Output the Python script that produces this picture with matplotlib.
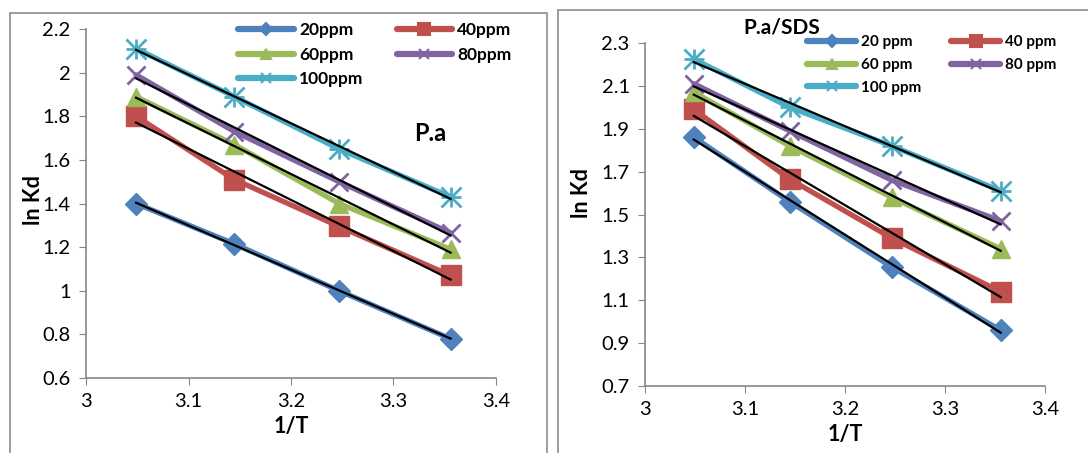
import numpy as np
import matplotlib
matplotlib.use("Agg")
from matplotlib import pyplot as plt
from matplotlib.patches import Rectangle

plt.rcParams["font.family"] = ["Lato", "DejaVu Sans"]

inv_T = [3.0488, 3.1447, 3.2468, 3.3557]

pa_labels = ["20ppm", "40ppm", "60ppm", "80ppm", "100ppm"]
pa_20 = [1.40, 1.215, 1.00, 0.78]
pa_40 = [1.80, 1.51, 1.295, 1.07]
pa_60 = [1.89, 1.67, 1.40, 1.19]
pa_80 = [1.99, 1.73, 1.50, 1.265]
pa_100 = [2.11, 1.89, 1.65, 1.43]

sds_labels = ["20 ppm", "40 ppm", "60 ppm", "80 ppm", "100 ppm"]
sds_20 = [1.86, 1.56, 1.255, 0.96]
sds_40 = [1.99, 1.665, 1.39, 1.14]
sds_60 = [2.07, 1.82, 1.58, 1.34]
sds_80 = [2.11, 1.89, 1.66, 1.47]
sds_100 = [2.225, 2.00, 1.82, 1.61]

colors = ["#4F81BD", "#C0504D", "#9BBB59", "#8064A2", "#4BACC6"]
markers = ["D", "s", "^", "x", "x"]
msizes = [11, 14, 13, 13, 14]
legend_ms = [6, 9, 7, 7, 7]

fig = plt.figure(figsize=(10.88, 4.53), dpi=100)

# chart frames
fig.patches.append(Rectangle((10 / 1088, -0.05), 537 / 1088, 1.05 - 13 / 453,
                             transform=fig.transFigure, fill=False,
                             edgecolor="#8c8c8c", lw=1.2))
fig.patches.append(Rectangle((558 / 1088, -0.05), 540 / 1088, 1.05 - 10 / 453,
                             transform=fig.transFigure, fill=False,
                             edgecolor="#8c8c8c", lw=1.2))


def draw_panel(ax, series, labels, ylim, yticks, leg_anchor, leg_size, colsp,
               lsp, ylab_xy):
    handles = []
    for i, y in enumerate(series):
        ax.plot(inv_T, y, color=colors[i], lw=3.8, marker=markers[i],
                ms=msizes[i], mew=2 if markers[i] == "x" else 1,
                mec=colors[i], solid_capstyle="round", zorder=2)
        if i == 4:
            ax.plot(inv_T, y, color=colors[i], lw=0, marker="+", ms=msizes[i],
                    mew=2, zorder=2)
        fit = np.polyfit(inv_T, y, 1)
        xs = np.array([inv_T[0], inv_T[-1]])
        ax.plot(xs, np.polyval(fit, xs), color="black", lw=1.6, zorder=3)
        h, = ax.plot([], [], color=colors[i], lw=4.5, marker=markers[i],
                     ms=legend_ms[i], mew=1.5, solid_capstyle="round",
                     label=labels[i])
        handles.append(h)
    order = [0, 2, 4, 1, 3]
    ax.legend([handles[k] for k in order], [labels[k] for k in order],
              ncol=2, frameon=False, loc="upper left", bbox_to_anchor=leg_anchor,
              prop={"weight": "bold", "size": leg_size}, handlelength=3.2,
              handletextpad=0.3, columnspacing=colsp, labelspacing=lsp,
              borderaxespad=0)
    ax.set_xlim(3, 3.4)
    ax.set_ylim(*ylim)
    ax.set_xticks([3, 3.1, 3.2, 3.3, 3.4])
    ax.set_xticklabels(["3", "3.1", "3.2", "3.3", "3.4"])
    ax.set_yticks(yticks)
    ax.set_yticklabels([f"{t:g}" for t in yticks])
    for side in ["top", "right"]:
        ax.spines[side].set_visible(False)
    for side in ["left", "bottom"]:
        ax.spines[side].set_color("#868686")
        ax.spines[side].set_linewidth(1.2)
    ax.tick_params(direction="out", length=5, color="#868686", labelsize=14.5,
                   pad=6)
    ax.set_xlabel("1/T", fontsize=15.5, fontweight="bold", labelpad=4)
    ax.set_ylabel("ln Kd", fontsize=15.5, fontweight="bold")
    ax.yaxis.label.set_va("center")
    ax.yaxis.set_label_coords(*ylab_xy)


ax1 = fig.add_axes([86 / 1088, 75 / 453, 410 / 1088, 349 / 453])
draw_panel(ax1, [pa_20, pa_40, pa_60, pa_80, pa_100], pa_labels, (0.6, 2.2),
           [0.6, 0.8, 1, 1.2, 1.4, 1.6, 1.8, 2, 2.2], (0.355, 1.04), 12.5,
           1.9, 0.5, (-0.129, 0.51))
ax1.text(0.84, 0.70, "P.a", transform=ax1.transAxes, fontsize=17,
         fontweight="bold", ha="center", va="center")

ax2 = fig.add_axes([645 / 1088, 67 / 453, 400 / 1088, 343 / 453])
draw_panel(ax2, [sds_20, sds_40, sds_60, sds_80, sds_100], sds_labels,
           (0.7, 2.3), [0.7, 0.9, 1.1, 1.3, 1.5, 1.7, 1.9, 2.1, 2.3],
           (0.39, 1.04), 11, 2.0, 0.56, (-0.158, 0.563))
fig.text(782 / 1088, 1 - 28 / 453, "P.a/SDS", fontsize=15, fontweight="bold",
         ha="center", va="center")

fig.savefig("out.png", dpi=100)
